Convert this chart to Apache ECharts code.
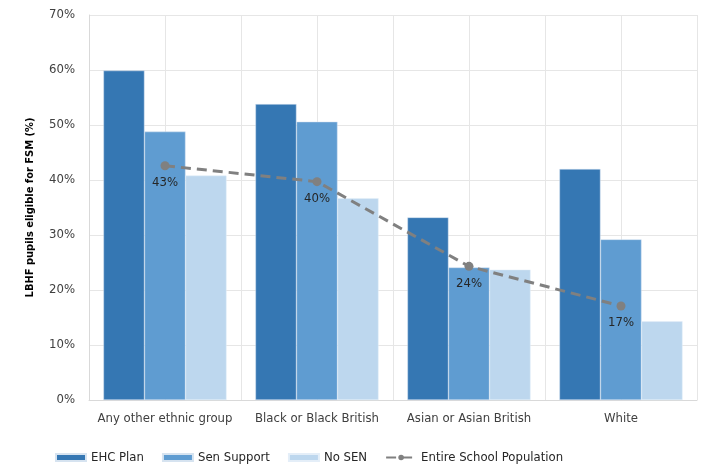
<!DOCTYPE html>
<html><head><meta charset="utf-8">
<script src="https://cdn.jsdelivr.net/npm/echarts@6/dist/echarts.min.js"></script>
<style>html,body{margin:0;padding:0;background:#fff}#c{width:705px;height:472px}</style>
</head><body><div id="c"></div>
<script>
const categories = ['Any other ethnic group', 'Black or Black British', 'Asian or Asian British', 'White'];
const ehcPlan = [59.9, 53.8, 33.2, 42.0];
const senSupport = [48.8, 50.6, 24.1, 29.2];
const noSen = [40.8, 36.7, 23.7, 14.3];
const entirePop = [42.6, 39.7, 24.3, 17.1];
const yTicks = [0, 10, 20, 30, 40, 50, 60, 70];

const FONT = "'DejaVu Sans Condensed', 'Liberation Sans', sans-serif";
const chart = echarts.init(document.getElementById('c'), null, {renderer: 'canvas'});
chart.setOption({
  animation: false,
  textStyle: {fontFamily: FONT},
  grid: {left: 89, right: 8, top: 15, bottom: 72, containLabel: false},
  legend: {
    bottom: 3, left: 50, itemWidth: 30, itemHeight: 7, itemGap: 18,
    textStyle: {fontSize: 13, color: '#262626', fontFamily: FONT},
    data: [
      {name: 'EHC Plan', icon: 'rect'},
      {name: 'Sen Support', icon: 'rect'},
      {name: 'No SEN', icon: 'rect'},
      {name: 'Entire School Population'}
    ]
  },
  xAxis: [{
    type: 'category', data: categories,
    axisLine: {lineStyle: {color: '#d9d9d9', width: 1}},
    axisTick: {show: false},
    axisLabel: {interval: 0, fontSize: 13, color: '#404040', margin: 12, fontFamily: FONT},
    splitLine: {show: false}
  }, {
    type: 'value', min: 0, max: 4, interval: 0.5, show: true, position: 'bottom',
    axisLine: {show: false}, axisTick: {show: false}, axisLabel: {show: false},
    splitLine: {show: true, lineStyle: {color: '#e6e6e6', width: 1}}
  }],
  yAxis: {
    type: 'value', min: 0, max: 70, interval: 10,
    name: 'LBHF pupils eligible for FSM (%)', nameLocation: 'middle', nameGap: 53,
    nameTextStyle: {fontSize: 11, fontWeight: 'bold', color: '#000', fontFamily: FONT},
    axisLine: {show: true, lineStyle: {color: '#d9d9d9'}},
    axisTick: {show: false},
    axisLabel: {formatter: v => v + '%', fontSize: 13, color: '#404040', margin: 14, fontFamily: FONT},
    splitLine: {lineStyle: {color: '#e6e6e6', width: 1}}
  },
  series: [
    {name: 'EHC Plan', type: 'bar', data: ehcPlan, barGap: '0%', barCategoryGap: '19%',
     itemStyle: {color: '#3577b3', borderColor: '#d6e3f0', borderWidth: 0.5}},
    {name: 'Sen Support', type: 'bar', data: senSupport,
     itemStyle: {color: '#5f9cd1', borderColor: '#d6e3f0', borderWidth: 0.5}},
    {name: 'No SEN', type: 'bar', data: noSen,
     itemStyle: {color: '#bdd7ee', borderColor: '#e4eef8', borderWidth: 0.5}},
    {name: 'Entire School Population', type: 'line', data: entirePop,
     symbol: 'circle', symbolSize: 9, z: 5,
     lineStyle: {color: '#808080', width: 3, type: [10, 6]},
     itemStyle: {color: '#808080'},
     label: {show: true, position: 'bottom', distance: 6, formatter: p => Math.round(p.value) + '%',
       fontSize: 13, color: '#262626', fontFamily: FONT}}
  ]
});
</script></body></html>
